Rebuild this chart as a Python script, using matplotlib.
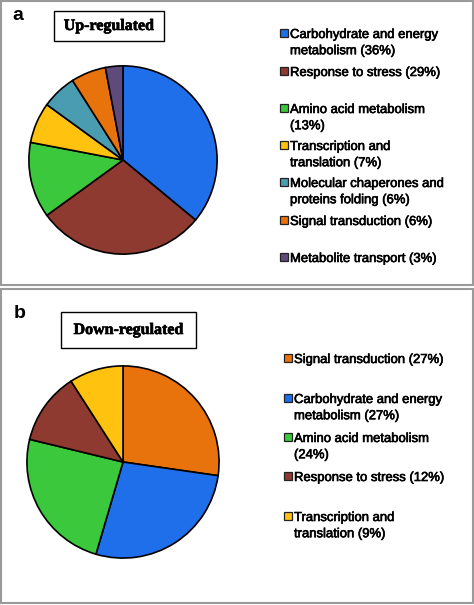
import matplotlib
matplotlib.use("Agg")
import matplotlib.pyplot as plt
from matplotlib.patches import Rectangle
import matplotlib.patheffects as pe

W, H = 474, 605

up_labels = ["Carbohydrate and energy\nmetabolism (36%)", "Response to stress (29%)",
             "Amino acid metabolism\n(13%)", "Transcription and\ntranslation (7%)",
             "Molecular chaperones and\nproteins folding (6%)", "Signal transduction (6%)",
             "Metabolite transport (3%)"]
up_values = [36, 29, 13, 7, 6, 6, 3]
up_colors = ["#1F6FEA", "#8E3A30", "#3CC83C", "#FFC20E", "#4A9DB0", "#E8720C", "#5E4B7C"]

down_labels = ["Signal transduction (27%)", "Carbohydrate and energy\nmetabolism (27%)",
               "Amino acid metabolism\n(24%)", "Response to stress (12%)",
               "Transcription and\ntranslation (9%)"]
down_values = [27, 27, 24, 12, 9]
down_colors = ["#E8720C", "#1F6FEA", "#3CC83C", "#8E3A30", "#FFC20E"]

fig = plt.figure(figsize=(W / 100, H / 100), dpi=100)
fig.patch.set_facecolor("white")

def px_rect(x0, y0, x1, y1):
    return [x0 / W, 1 - y1 / H, (x1 - x0) / W, (y1 - y0) / H]

# panel borders
for (x0, y0, x1, y1) in [(1, 1, 473, 285), (1, 289, 473, 603)]:
    fig.patches.append(Rectangle((x0 / W, 1 - y1 / H), (x1 - x0) / W, (y1 - y0) / H,
                                 transform=fig.transFigure, fill=False,
                                 edgecolor="#9a9a9a", linewidth=1.5))

def draw_pie(cx, cy, r, values, colors):
    ax = fig.add_axes(px_rect(cx - r, cy - r, cx + r, cy + r))
    ax.pie(values, colors=colors, startangle=90, counterclock=False,
           wedgeprops=dict(edgecolor="black", linewidth=1.2))
    ax.set_xlim(-1.02, 1.02)
    ax.set_ylim(-1.02, 1.02)
    ax.set_aspect("equal")
    ax.axis("off")

draw_pie(123, 160, 96, up_values, up_colors)
draw_pie(123, 462, 98, down_values, down_colors)

bold_fx = [pe.withStroke(linewidth=0.45, foreground="black")]

def draw_legend(x_sq, x_txt, ys, labels, colors):
    for y, lab, c in zip(ys, labels, colors):
        s = 7.5
        fig.patches.append(Rectangle(((x_sq) / W, 1 - (y + s / 2) / H), s / W, s / H,
                                     transform=fig.transFigure, facecolor=c,
                                     edgecolor="#222222", linewidth=0.9))
        fig.text(x_txt / W, 1 - (y - 4) / H, lab, ha="left", va="top",
                 fontsize=9.4, family="Liberation Sans", linespacing=1.47, color="black",
                 path_effects=bold_fx)

draw_legend(280, 290, [33, 71, 108, 145, 182, 220, 257], up_labels, up_colors)
draw_legend(284, 294, [358, 398, 437, 476, 516], down_labels, down_colors)

def title_box(x0, y0, x1, y1, text):
    fig.patches.append(Rectangle((x0 / W, 1 - y1 / H), (x1 - x0) / W, (y1 - y0) / H,
                                 transform=fig.transFigure, fill=False,
                                 edgecolor="black", linewidth=1.0))
    fig.text((x0 + x1) / 2 / W, 1 - (y0 + y1) / 2 / H, text, ha="center", va="center",
             fontsize=11.5, family="Liberation Serif", fontweight="bold",
             path_effects=bold_fx)

title_box(54, 11, 164, 41, "Up-regulated")
title_box(61, 312, 196, 348, "Down-regulated")

fig.text(12 / W, 1 - 16 / H, "a", ha="left", va="center", fontsize=14,
         fontweight="bold", family="Liberation Sans")
fig.text(14 / W, 1 - 313 / H, "b", ha="left", va="center", fontsize=14,
         fontweight="bold", family="Liberation Sans")

fig.savefig("out.png", dpi=100, facecolor="white")
